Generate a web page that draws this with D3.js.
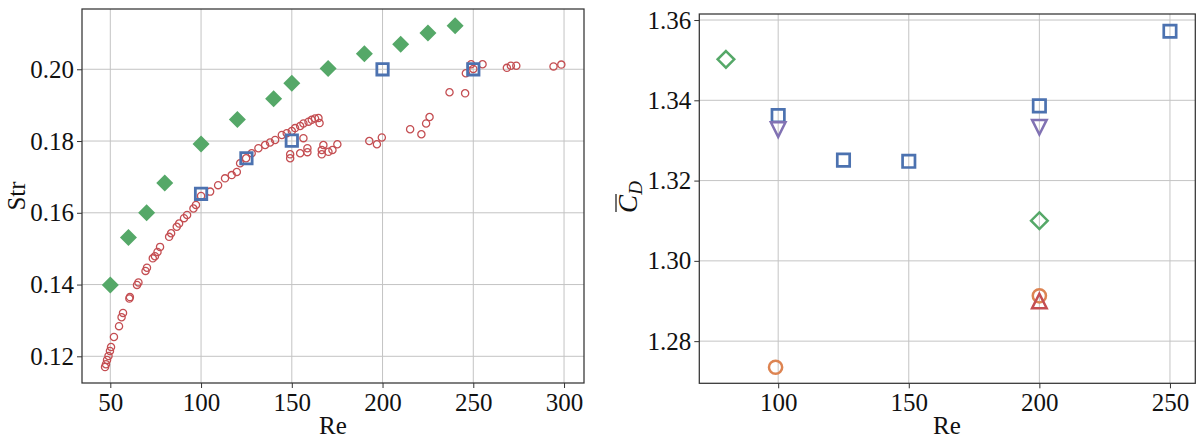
<!DOCTYPE html>
<html>
<head>
<meta charset="utf-8">
<script src="https://cdnjs.cloudflare.com/ajax/libs/d3/7.8.5/d3.min.js"></script>
<style>
  body { margin: 0; background: #fff; }
  text { font-family: "Liberation Serif", "Times New Roman", Times, "DejaVu Serif", serif; fill: #111; }
</style>
</head>
<body>
<svg id="chart" width="1197" height="441"></svg>
<script>
(function() {
  // left panel: Strouhal number vs Re
  var refRe = [47.1, 47.6, 48.2, 49.0, 49.8, 50.4, 52.0, 54.8, 56.2, 57.0, 60.5, 60.8, 64.7, 65.5, 69.4, 70.2,
    73.4, 74.6, 76.0, 77.4, 82.4, 83.5, 86.6, 87.9, 90.6, 92.3, 95.8, 97.2, 100.0, 105.0, 109.4, 113.2,
    116.9, 119.7, 121.5, 124.8, 127.9, 131.6, 135.3, 138.0, 140.8, 144.5, 147.2, 150.0, 151.8, 154.6,
    156.4, 159.2, 161.0, 162.8, 164.7, 165.3, 149.1, 149.1, 156.4, 154.6, 158.6, 158.6, 166.5, 166.5,
    167.4, 170.2, 172.4, 175.1, 192.7, 196.9, 199.6, 215.2, 221.4, 224.0, 225.9, 236.9, 245.5, 245.9,
    248.8, 250.0, 255.1, 268.5, 270.7, 273.7, 294.2, 298.5];
  var refStr = [0.1170, 0.1178, 0.1190, 0.1201, 0.1215, 0.1226, 0.1254, 0.1284, 0.1309, 0.1321, 0.1361, 0.1365,
    0.1399, 0.1406, 0.1438, 0.1447, 0.1473, 0.1479, 0.1491, 0.1505, 0.1533, 0.1543, 0.1561, 0.1570,
    0.1585, 0.1594, 0.1612, 0.1622, 0.1647, 0.1659, 0.1677, 0.1696, 0.1705, 0.1714, 0.1738, 0.1752,
    0.1766, 0.1780, 0.1789, 0.1796, 0.1803, 0.1817, 0.1822, 0.1828, 0.1836, 0.1842, 0.1849, 0.1854,
    0.1859, 0.1863, 0.1864, 0.1850, 0.1763, 0.1752, 0.1808, 0.1766, 0.1780, 0.1769, 0.1775, 0.1763,
    0.1789, 0.1770, 0.1775, 0.1791, 0.1800, 0.1791, 0.1810, 0.1833, 0.1819, 0.1849, 0.1867, 0.1936,
    0.1933, 0.1989, 0.2014, 0.2001, 0.2014, 0.2004, 0.2010, 0.2010, 0.2008, 0.2013];
  var diamondRe = [50, 60, 70, 80, 100, 120, 140, 150, 170, 190, 210, 225, 240];
  var diamondStr = [0.1399, 0.1531, 0.1600, 0.1683, 0.1792, 0.1860, 0.1918, 0.1961, 0.2002, 0.2043, 0.2070, 0.2101, 0.2121];
  var squareRe = [100, 125, 150, 200, 250];
  var squareStr = [0.1653, 0.1752, 0.1801, 0.2000, 0.2000];
  var leftXTicks = [50, 100, 150, 200, 250, 300];
  var leftYTicks = [0.12, 0.14, 0.16, 0.18, 0.20];

  // right panel: mean drag coefficient vs Re
  var cdSquareRe = [100, 125, 150, 200, 250];
  var cdSquare = [1.3362, 1.3251, 1.3248, 1.3386, 1.3572];
  var cdTriDownRe = [100, 200];
  var cdTriDown = [1.3327, 1.3333];
  var cdDiamondRe = [80, 200];
  var cdDiamond = [1.3502, 1.3100];
  var cdCircleRe = [99, 200];
  var cdCircle = [1.2735, 1.2913];
  var cdTriUpRe = [200];
  var cdTriUp = [1.2900];
  var rightXTicks = [100, 150, 200, 250];
  var rightYTicks = [1.28, 1.30, 1.32, 1.34, 1.36];

  var blue = '#4C72B0', orange = '#DD8452', green = '#55A868', red = '#C44E52', purple = '#8172B3';
  var serif = '"Liberation Serif", "Times New Roman", Times, "DejaVu Serif", serif';
  var fontSize = 25;

  var svg = d3.select('#chart');

  function zip(a, b) {
    return a.map(function(v, i) { return [v, b[i]]; });
  }

  function marker(type, r) {
    var p = d3.path();
    if (type === 'square') {
      p.rect(-r, -r, 2 * r, 2 * r);
    } else if (type === 'diamond') {
      p.moveTo(0, -r); p.lineTo(r, 0); p.lineTo(0, r); p.lineTo(-r, 0); p.closePath();
    } else if (type === 'triUp') {
      p.moveTo(0, -r); p.lineTo(r, r); p.lineTo(-r, r); p.closePath();
    } else if (type === 'triDown') {
      p.moveTo(0, r); p.lineTo(r, -r); p.lineTo(-r, -r); p.closePath();
    } else {
      p.arc(0, 0, r, 0, 2 * Math.PI); p.closePath();
    }
    return p.toString();
  }

  function panel(box, xDomain, yDomain, xTicks, yTicks, yFmt) {
    var x = d3.scaleLinear().domain(xDomain).range([box.left, box.right]);
    var y = d3.scaleLinear().domain(yDomain).range([box.bottom, box.top]);
    var g = svg.append('g');
    var grid = g.append('g').attr('stroke', '#c4c4c4').attr('stroke-width', 1);
    xTicks.forEach(function(t) {
      grid.append('line').attr('x1', x(t)).attr('x2', x(t)).attr('y1', box.top).attr('y2', box.bottom);
    });
    yTicks.forEach(function(t) {
      grid.append('line').attr('y1', y(t)).attr('y2', y(t)).attr('x1', box.left).attr('x2', box.right);
    });
    var xAxis = d3.axisBottom(x).tickValues(xTicks).tickSize(5).tickPadding(3).tickFormat(d3.format('d'));
    var yAxis = d3.axisLeft(y).tickValues(yTicks).tickSize(5).tickPadding(3).tickFormat(d3.format(yFmt));
    var xg = g.append('g').attr('transform', 'translate(0,' + box.bottom + ')').call(xAxis);
    var yg = g.append('g').attr('transform', 'translate(' + box.left + ',0)').call(yAxis);
    [xg, yg].forEach(function(a) {
      a.attr('font-family', null).attr('font-size', null);
      a.select('.domain').remove();
      a.selectAll('.tick line').attr('stroke', '#333');
      a.selectAll('.tick text').attr('font-size', fontSize).attr('fill', '#111').style('font-family', serif);
    });
    xg.selectAll('.tick text').attr('dy', '0.78em');
    var points = g.append('g');
    g.append('rect').attr('x', box.left).attr('y', box.top)
      .attr('width', box.right - box.left).attr('height', box.bottom - box.top)
      .attr('fill', 'none').attr('stroke', '#333').attr('stroke-width', 1.25);
    return { x: x, y: y, g: points };
  }

  function scatter(p, data, type, r, opts) {
    p.g.append('g').selectAll('path').data(data).enter().append('path')
      .attr('d', marker(type, r))
      .attr('transform', function(d) { return 'translate(' + p.x(d[0]) + ',' + p.y(d[1]) + ')'; })
      .attr('fill', opts.fill || 'none')
      .attr('stroke', opts.stroke || 'none')
      .attr('stroke-width', opts.width || 0);
  }

  // left
  var L = panel({ left: 82, right: 584, top: 9, bottom: 383 }, [34.4, 311], [0.11256, 0.2168],
    leftXTicks, leftYTicks, '.2f');
  scatter(L, zip(refRe, refStr), 'circle', 3.6, { stroke: red, width: 1.3 });
  scatter(L, zip(squareRe, squareStr), 'square', 5.7, { stroke: blue, width: 2.8 });
  scatter(L, zip(diamondRe, diamondStr), 'diamond', 8.5, { fill: green });

  svg.append('text').attr('x', 333).attr('y', 434).attr('text-anchor', 'middle').attr('font-size', fontSize).text('Re');
  svg.append('text').attr('transform', 'translate(25,196) rotate(-90)').attr('text-anchor', 'middle')
    .attr('font-size', fontSize).text('Str');

  // right
  var R = panel({ left: 699.3, right: 1195.3, top: 14, bottom: 383.3 }, [69.8, 259.7], [1.2695, 1.3615],
    rightXTicks, rightYTicks, '.2f');
  scatter(R, zip(cdSquareRe, cdSquare), 'square', 6.2, { stroke: blue, width: 2.7 });
  scatter(R, zip(cdTriDownRe, cdTriDown), 'triDown', 7.3, { stroke: purple, width: 2.5 });
  scatter(R, zip(cdDiamondRe, cdDiamond), 'diamond', 8.3, { stroke: green, width: 2.5 });
  scatter(R, zip(cdCircleRe, cdCircle), 'circle', 6.6, { stroke: orange, width: 2.5 });
  scatter(R, zip(cdTriUpRe, cdTriUp), 'triUp', 7.3, { stroke: red, width: 2.5 });

  svg.append('text').attr('x', 947).attr('y', 434).attr('text-anchor', 'middle').attr('font-size', fontSize).text('Re');
  var cd = svg.append('g').attr('transform', 'translate(637,197) rotate(-90)');
  var cdText = cd.append('text').attr('text-anchor', 'middle').attr('font-size', 27).attr('font-style', 'italic');
  cdText.append('tspan').text('C');
  cdText.append('tspan').attr('font-size', 19).attr('dy', 5).text('D');
  cd.append('line').attr('x1', -15).attr('x2', 3).attr('y1', -21).attr('y2', -21)
    .attr('stroke', '#111').attr('stroke-width', 1.2);
})();
</script>
</body>
</html>
